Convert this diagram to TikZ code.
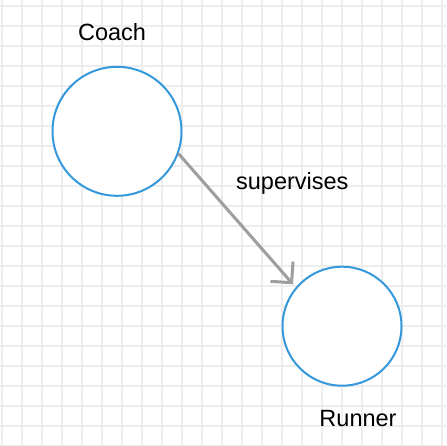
\documentclass[tikz,border=0pt]{standalone}
\usepackage{fontspec}
\setmainfont{Liberation Sans}
\usetikzlibrary{positioning, arrows.meta}
\definecolor{gridgray}{HTML}{EDEDED}
\definecolor{ringblue}{HTML}{3498DB}
\definecolor{edgegray}{HTML}{9E9E9E}

\begin{document}
\begin{tikzpicture}
		[x=1pt, y=-1pt,
		 ring/.style={draw=ringblue, line width=2pt, circle, inner sep=0pt, fill=white},
		 caption/.style={anchor=base, inner sep=0pt, font=\fontsize{23.5}{28}\selectfont},
		 relation/.style={draw=edgegray, line width=3pt, -{Straight Barb[length=15pt, width=30pt]}, shorten >=4pt}]
		\useasboundingbox (0,0) rectangle (446,446);
		\fill[white] (0,0) rectangle (446,446);
		% grid
		\foreach \i in {0,...,22} {
			\draw[gridgray, line width=1.2pt] (2+20*\i,0) -- (2+20*\i,446);
			\draw[gridgray, line width=1.2pt] (0,6+20*\i) -- (446,6+20*\i);
		}
		
		\node[ring, minimum size=129pt] (coach) at (117,131.3) {};
		\node[ring, minimum size=119pt] (runner) at (342,326.2) {};
		\node[caption] (coachlbl) at (112,40.7) {Coach};
		\node[caption] (runnerlbl) at (358,426.7) {Runner};
		
		\draw[relation] (coach.-20) -- (runner.140);
		\node[caption] (rel) at (292.3,189.3) {supervises};
	\end{tikzpicture}
\end{document}
